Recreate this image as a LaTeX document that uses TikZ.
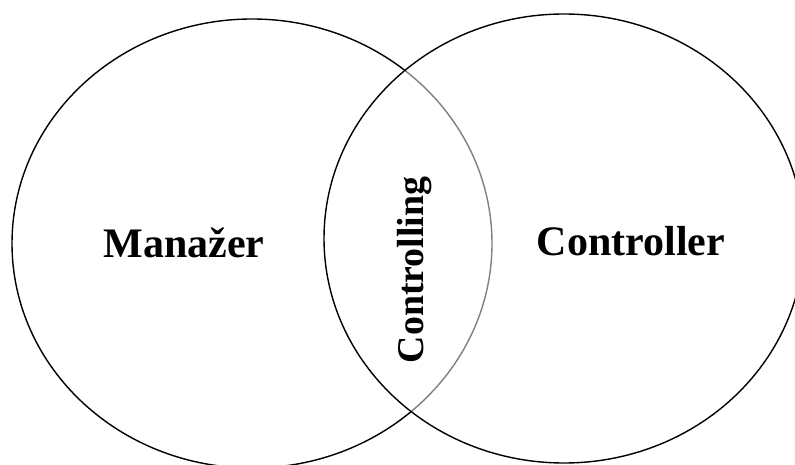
\documentclass[tikz,border=0pt]{standalone}
\usepackage{fontspec}
\setmainfont{Liberation Serif}
\begin{document}
\begin{tikzpicture}[x=1pt,y=1pt,
  ring/.style={draw=black,line width=1.4pt},
  lbl/.style={font=\bfseries\fontsize{42}{42}\selectfont,inner sep=0pt,anchor=base},
  midlbl/.style={font=\bfseries\fontsize{37.8}{37.8}\selectfont,inner sep=0pt,anchor=base,rotate=90}]
\useasboundingbox (0,0) rectangle (795,464);
\clip (0,0) rectangle (795,464);
\draw[ring] (252,220.5) ellipse [x radius=240, y radius=224.5];
\draw[ring,fill=white,fill opacity=0.5] (564,225.5) ellipse [x radius=240, y radius=224.5];
\node[lbl] (manazer) at (184,207) {Manažer};
\node[lbl] (controller) at (631,208) {Controller};
\node[midlbl] (controlling) at (423,194) {Controlling};
\end{tikzpicture}
\end{document}
